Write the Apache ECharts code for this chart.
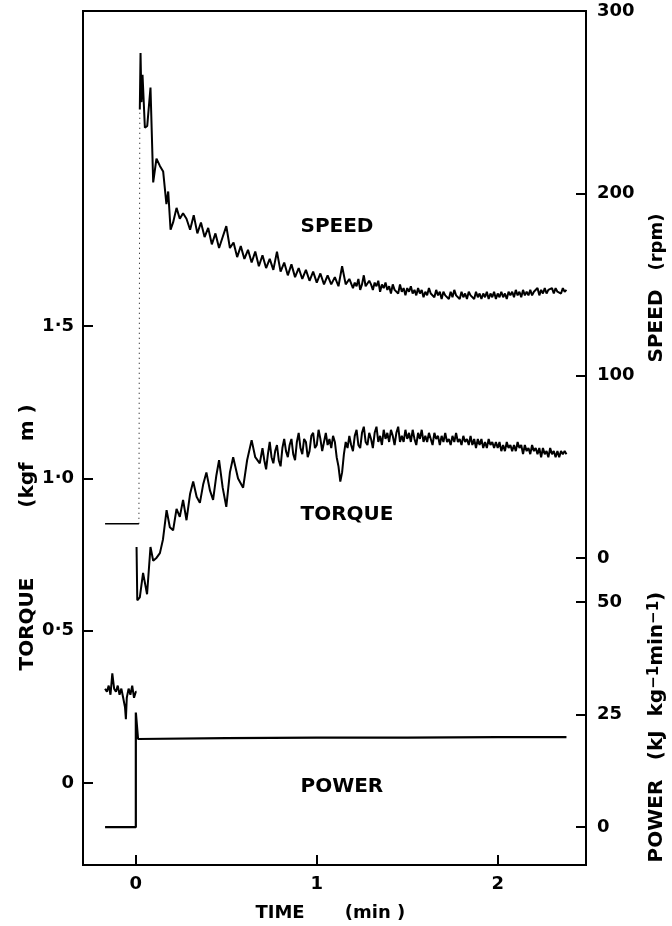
<!DOCTYPE html>
<html><head><meta charset="utf-8">
<script src="https://cdn.jsdelivr.net/npm/echarts@6/dist/echarts.min.js"></script>
<style>html,body{margin:0;padding:0;background:#fff}#c{width:672px;height:926px}</style>
</head><body><div id="c"></div>
<script>
// ---------- DATA ----------
const timeTicks = [0, 1, 2];
const timeTickLabels = ['0', '1', '2'];
const torqueTicks = [0, 0.5, 1.0, 1.5];
const torqueTickLabels = ['0', '0·5', '1·0', '1·5'];
const speedTicks = [0, 100, 200, 300];
const speedTickLabels = ['0', '100', '200', '300'];
const powerTicks = [0, 25, 50];
const powerTickLabels = ['0', '25', '50'];

// speed (rpm)
const speedPreT = [-0.17, 0.017];
const speedPreV = [18.7, 18.7];
const speedT = [0.022,0.026,0.031,0.037,0.050,0.063,0.081,0.096,0.114,0.133,0.151,0.169,0.179,0.192,0.206,0.225,0.243,0.261,0.280,
 0.30,0.32,0.34,0.36,0.38,0.40,0.42,0.44,0.46,0.48,0.50,0.52,0.54,0.56,0.58,0.60,0.62,0.64,0.66,0.68,0.70,0.72,0.74,0.76,0.78,0.80,
 0.82,0.84,0.86,0.88,0.90,0.92,0.94,0.96,0.98,1.00,1.02,1.04,1.06,1.08,1.10,1.12,1.14,1.16,1.18,
 1.20,1.21,1.22,1.23,1.24,1.25,1.26,1.27,1.28,1.29,1.30,1.31,1.32,1.33,1.34,1.35,1.36,1.37,1.38,1.39,
 1.40,1.41,1.42,1.43,1.44,1.45,1.46,1.47,1.48,1.49,1.50,1.51,1.52,1.53,1.54,1.55,1.56,1.57,1.58,1.59,
 1.60,1.61,1.62,1.63,1.64,1.65,1.66,1.67,1.68,1.69,1.70,1.71,1.72,1.73,1.74,1.75,1.76,1.77,1.78,1.79,
 1.80,1.81,1.82,1.83,1.84,1.85,1.86,1.87,1.88,1.89,1.90,1.91,1.92,1.93,1.94,1.95,1.96,1.97,1.98,1.99,
 2.00,2.01,2.02,2.03,2.04,2.05,2.06,2.07,2.08,2.09,2.10,2.11,2.12,2.13,2.14,2.15,2.16,2.17,2.18,2.19,
 2.20,2.21,2.22,2.23,2.24,2.25,2.26,2.27,2.28,2.29,2.30,2.31,2.32,2.33,2.34,2.35,2.36,2.37,2.38];
const speedV = [246,277,250,265,236,237,258,206,219,215,212,194,201,180,184,192,186,189,186,
 180,188,178,184,176,181,172,178,170,176,182,170,173,165,171,164,169,162,168,160,166,159,164,158,168,157,
 162,155,161,154,159,153,158,152,157,151,156,150,155,150,154,149,160,150,153,
 148,151,149,153,147,150,155,149,148,152,150,147,151,149,152,146,150,148,151,147,
 149,145,150,147,148,145,150,146,148,144,148,146,149,145,147,144,148,145,147,143,
 146,144,148,145,146,143,147,144,146,142,146,144,145,142,146,143,147,144,145,142,
 146,143,145,142,146,144,145,142,146,143,145,142,145,143,146,142,145,143,146,142,
 145,143,146,143,145,142,146,144,146,143,147,144,146,143,147,144,146,144,147,144,
 146,145,148,144,147,145,148,145,147,146,148,145,148,146,147,145,148,146,147];

// torque (kgf m)
const torquePreT = [-0.17,-0.16,-0.15,-0.14,-0.13,-0.12,-0.11,-0.10,-0.09,-0.08,-0.07,-0.06,-0.055,-0.05,-0.04,-0.03,-0.02,-0.01,0.00,0.004];
const torquePreV = [0.31,0.30,0.32,0.29,0.36,0.31,0.30,0.32,0.29,0.31,0.28,0.25,0.21,0.28,0.31,0.29,0.32,0.28,0.30,0.30];
const torqueT = [0.004,0.008,0.022,0.040,0.062,0.081,0.096,0.115,0.133,0.150,0.170,0.188,0.206,0.225,0.243,0.261,0.280,0.300,0.317,
 0.336,0.354,0.372,0.390,0.410,0.427,0.445,0.460,0.480,0.500,0.520,0.538,0.565,0.593,0.615,0.640,0.660,0.685,
 0.70,0.71,0.72,0.73,0.74,0.75,0.76,0.77,0.78,0.79,0.80,0.81,0.82,0.83,0.84,0.85,0.86,0.87,0.88,0.89,
 0.90,0.91,0.92,0.93,0.94,0.95,0.96,0.97,0.98,0.99,1.00,1.01,1.02,1.03,1.04,1.05,1.06,1.07,1.08,1.09,
 1.10,1.11,1.12,1.13,1.14,1.15,1.16,1.17,1.18,1.19,1.20,1.21,1.22,1.23,1.24,1.25,1.26,1.27,1.28,1.29,
 1.30,1.31,1.32,1.33,1.34,1.35,1.36,1.37,1.38,1.39,1.40,1.41,1.42,1.43,1.44,1.45,1.46,1.47,1.48,1.49,
 1.50,1.51,1.52,1.53,1.54,1.55,1.56,1.57,1.58,1.59,1.60,1.61,1.62,1.63,1.64,1.65,1.66,1.67,1.68,1.69,
 1.70,1.71,1.72,1.73,1.74,1.75,1.76,1.77,1.78,1.79,1.80,1.81,1.82,1.83,1.84,1.85,1.86,1.87,1.88,1.89,
 1.90,1.91,1.92,1.93,1.94,1.95,1.96,1.97,1.98,1.99,2.00,2.01,2.02,2.03,2.04,2.05,2.06,2.07,2.08,2.09,
 2.10,2.11,2.12,2.13,2.14,2.15,2.16,2.17,2.18,2.19,2.20,2.21,2.22,2.23,2.24,2.25,2.26,2.27,2.28,2.29,
 2.30,2.31,2.32,2.33,2.34,2.35,2.36,2.37,2.38];
const torqueV = [0.775,0.60,0.61,0.69,0.62,0.775,0.73,0.74,0.755,0.80,0.896,0.84,0.83,0.90,0.874,0.93,0.863,0.95,0.99,
 0.94,0.92,0.98,1.02,0.96,0.93,1.01,1.06,0.97,0.907,1.02,1.07,1.00,0.97,1.06,1.126,1.07,1.05,
 1.10,1.06,1.03,1.08,1.12,1.07,1.05,1.09,1.11,1.06,1.04,1.10,1.13,1.09,1.07,1.11,1.13,1.08,1.06,1.12,
 1.15,1.10,1.08,1.13,1.12,1.07,1.09,1.14,1.15,1.10,1.11,1.16,1.13,1.09,1.12,1.15,1.11,1.13,1.10,1.14,
 1.12,1.07,1.04,0.99,1.02,1.08,1.12,1.10,1.14,1.11,1.09,1.14,1.16,1.11,1.10,1.15,1.17,1.12,1.11,1.15,
 1.13,1.10,1.15,1.17,1.12,1.14,1.11,1.16,1.13,1.15,1.12,1.16,1.14,1.11,1.15,1.17,1.12,1.14,1.12,1.16,
 1.13,1.15,1.12,1.16,1.13,1.11,1.15,1.13,1.16,1.12,1.14,1.12,1.15,1.13,1.11,1.15,1.13,1.14,1.11,1.14,
 1.12,1.15,1.12,1.13,1.11,1.14,1.12,1.15,1.12,1.13,1.11,1.14,1.12,1.13,1.11,1.14,1.11,1.13,1.10,1.13,
 1.11,1.13,1.10,1.12,1.10,1.13,1.11,1.12,1.10,1.12,1.10,1.12,1.09,1.11,1.09,1.12,1.10,1.11,1.09,1.11,
 1.09,1.12,1.10,1.11,1.08,1.11,1.09,1.10,1.08,1.11,1.09,1.10,1.08,1.10,1.07,1.10,1.08,1.09,1.07,1.10,
 1.08,1.09,1.07,1.09,1.07,1.09,1.08,1.09,1.08];

// power (kJ kg-1 min-1)
const powerT = [-0.17, 0.0, 0.0, 0.003, 0.012, 0.5, 1.0, 1.5, 2.0, 2.38];
const powerV = [0, 0, 25.5, 25.5, 19.6, 19.8, 19.9, 19.9, 20.0, 20.0];

// ---------- CHART ----------
const pairs = (t, v) => t.map((x, i) => [x, v[i]]);
const FONT = 'DejaVu Sans';
const chart = echarts.init(document.getElementById('c'), null, {renderer: 'canvas'});
const lab = (labels, ticks) => (v) => { const i = ticks.findIndex(t => Math.abs(t - v) < 1e-9); return i >= 0 ? labels[i] : ''; };
const tickStyle = {show: true, inside: true, length: 10, lineStyle: {color: '#000', width: 2}};
const labelStyle = {color: '#000', fontFamily: FONT, fontWeight: 'bold', fontSize: 18};
const axLine = {show: true, onZero: false, lineStyle: {color: '#000', width: 2}};
const line = (data, yIdx, extra) => Object.assign({
  type: 'line', data, xAxisIndex: 0, yAxisIndex: yIdx, showSymbol: false, symbol: 'none',
  lineStyle: {color: '#000', width: 2}, animation: false, z: 3
}, extra || {});

const speedPre = pairs(speedPreT, speedPreV);
const speedPost = pairs(speedT, speedV);

chart.setOption({
  backgroundColor: '#fff',
  animation: false,
  grid: {left: 83, right: 86, top: 11, bottom: 61, show: true, borderColor: '#000', borderWidth: 2, backgroundColor: 'transparent'},
  xAxis: {type: 'value', min: -0.292, max: 2.488, axisLine: axLine,
    axisTick: Object.assign({customValues: timeTicks}, tickStyle),
    axisLabel: Object.assign({customValues: timeTicks, formatter: lab(timeTickLabels, timeTicks), margin: 10}, labelStyle),
    splitLine: {show: false}},
  yAxis: [
    {type: 'value', position: 'left', min: -0.269, max: 2.535, axisLine: axLine,
      axisTick: Object.assign({customValues: torqueTicks}, tickStyle),
      axisLabel: Object.assign({customValues: torqueTicks, formatter: lab(torqueTickLabels, torqueTicks), margin: 9}, labelStyle),
      splitLine: {show: false}},
    {type: 'value', position: 'right', min: -168.5, max: 300, axisLine: axLine,
      axisTick: Object.assign({customValues: speedTicks}, tickStyle),
      axisLabel: Object.assign({customValues: speedTicks, formatter: lab(speedTickLabels, speedTicks), margin: 11}, labelStyle),
      splitLine: {show: false}},
    {type: 'value', position: 'right', offset: 0, min: -8.4, max: 181.4, axisLine: {show: false, onZero: false},
      axisTick: Object.assign({customValues: powerTicks}, tickStyle),
      axisLabel: Object.assign({customValues: powerTicks, formatter: lab(powerTickLabels, powerTicks), margin: 11}, labelStyle),
      splitLine: {show: false}}
  ],
  series: [
    line(speedPre, 1, {lineStyle: {color: '#000', width: 1.6}}),
    line([speedPre[speedPre.length - 1], speedPost[0]], 1, {lineStyle: {color: '#000', width: 1, type: [1, 4]}}),
    line(speedPost, 1),
    line(pairs(torquePreT, torquePreV), 0),
    line(pairs(torqueT, torqueV), 0),
    line(pairs(powerT, powerV), 2, {lineStyle: {color: '#000', width: 2.2}})
  ]
});

// annotations placed through the axes' own scales
const px = (t, v, yi) => chart.convertToPixel({xAxisIndex: 0, yAxisIndex: yi}, [t, v]);
const inLabel = {fill: '#000', fontFamily: FONT, fontWeight: 'bold', fontSize: 20, align: 'left', verticalAlign: 'middle'};
const pS = px(0.91, 181.6, 1), pT = px(0.91, 0.88, 0), pP = px(0.91, 8.9, 2);
const titleFont = {fill: '#000', fontFamily: FONT, fontWeight: 'bold', fontSize: 20, align: 'center', verticalAlign: 'middle'};
chart.setOption({
  graphic: [
    {type: 'text', x: pS[0], y: pS[1], style: Object.assign({text: 'SPEED'}, inLabel)},
    {type: 'text', x: pT[0], y: pT[1], style: Object.assign({text: 'TORQUE'}, inLabel)},
    {type: 'text', x: pP[0], y: pP[1], style: Object.assign({text: 'POWER'}, inLabel)},
    {type: 'text', x: 28, y: 624, rotation: Math.PI / 2, style: Object.assign({text: 'TORQUE'}, titleFont)},
    {type: 'text', x: 28, y: 456, rotation: Math.PI / 2, style: Object.assign({text: '(kgf   m )'}, titleFont)},
    {type: 'text', x: 657, y: 326, rotation: Math.PI / 2, style: Object.assign({text: 'SPEED'}, titleFont)},
    {type: 'text', x: 657, y: 242, rotation: Math.PI / 2, style: Object.assign({text: '(rpm)'}, titleFont, {fontSize: 18})},
    {type: 'text', x: 657, y: 821, rotation: Math.PI / 2, style: Object.assign({text: 'POWER'}, titleFont)},
    {type: 'text', x: 657, y: 676, rotation: Math.PI / 2, style: Object.assign({}, titleFont, {
      text: '(kJ  kg{s|−1}min{s|−1})',
      rich: {s: {fontFamily: FONT, fontWeight: 'bold', fontSize: 15, fill: '#000', verticalAlign: 'top'}}})},
    {type: 'text', x: 280, y: 913, style: Object.assign({text: 'TIME'}, titleFont, {fontSize: 18})},
    {type: 'text', x: 375, y: 913, style: Object.assign({text: '(min )'}, titleFont, {fontSize: 18})}
  ]
});
</script></body></html>
